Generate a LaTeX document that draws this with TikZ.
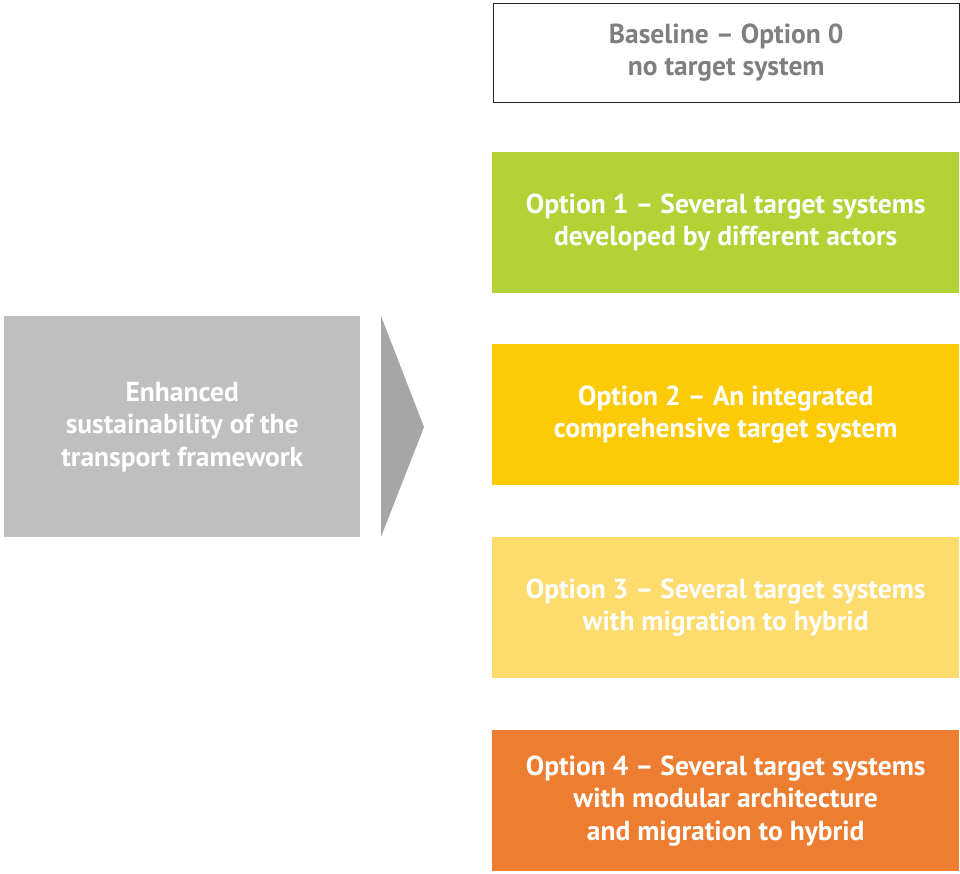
\documentclass[tikz,border=0pt]{standalone}
\usepackage{fontspec}
\setmainfont{PT Sans}
\definecolor{ogreen}{HTML}{B2D235}
\definecolor{oyellow}{HTML}{FCCB05}
\definecolor{olight}{HTML}{FDDB6D}
\definecolor{oorange}{HTML}{ED7D31}
\definecolor{lgray}{HTML}{BFBFBF}
\definecolor{tgray}{HTML}{A6A6A6}
\definecolor{txtgray}{HTML}{7F7F7F}
\tikzset{
  optbox/.style={minimum width=467pt, minimum height=141pt, inner sep=0pt, align=center,
    text=white, font=\fontsize{27.5}{32.5}\selectfont\bfseries, anchor=north west},
}
\begin{document}
\begin{tikzpicture}[x=1pt,y=-1pt]
\useasboundingbox (0,0) rectangle (960,874);
\node[optbox, minimum height=99pt, minimum width=466pt, draw=black!85, line width=1.2pt, fill=white, text=txtgray] (b0) at (492.6,2.6) {Baseline – Option 0\\no target system};
\node[optbox, fill=ogreen] (o1) at (492,152) {Option 1 – Several target systems\\developed by different actors};
\node[optbox, fill=oyellow] (o2) at (492,344) {Option 2 – An integrated\\comprehensive target system};
\node[optbox, fill=olight] (o3) at (492,537) {Option 3 – Several target systems\\with migration to hybrid};
\node[optbox, fill=oorange] (o4) at (492,730) {Option 4 – Several target systems\\with modular architecture\\and migration to hybrid};
\node[optbox, fill=lgray, minimum width=356pt, minimum height=221pt] (src) at (4,316) {Enhanced\\sustainability of the\\transport framework};
\fill[tgray] (381,316) -- (424,427) -- (381,537) -- cycle;
\end{tikzpicture}
\end{document}
